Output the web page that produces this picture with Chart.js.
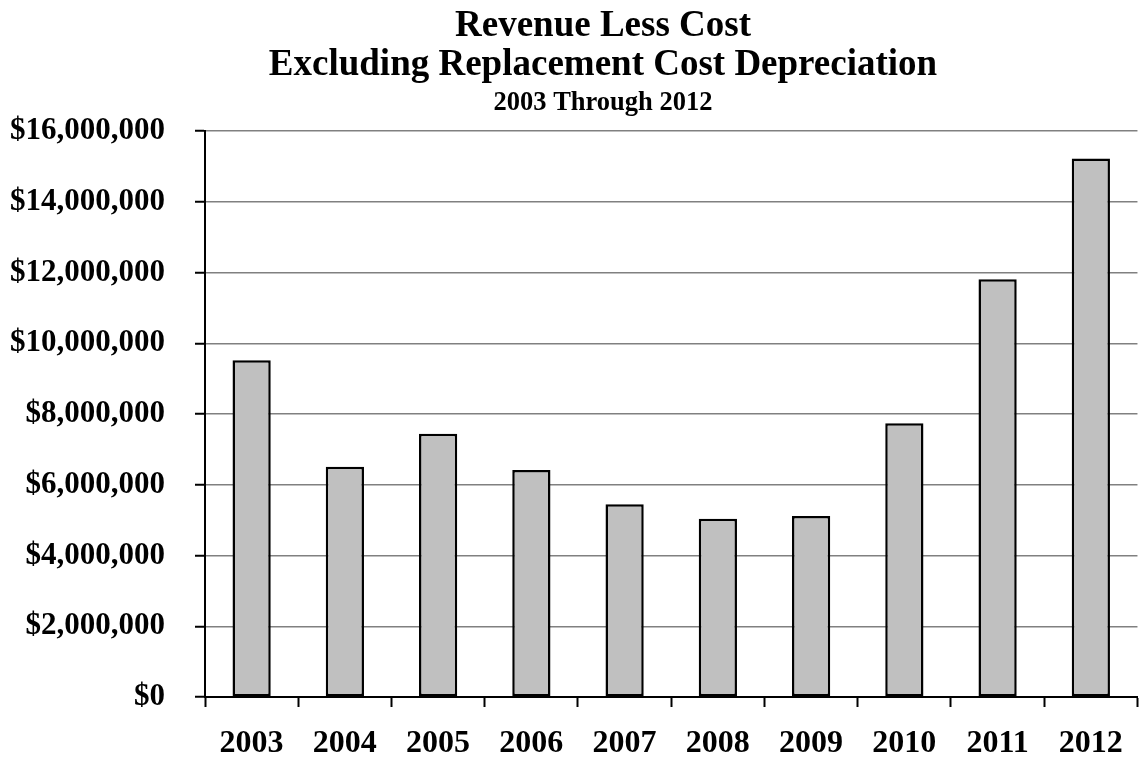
<!DOCTYPE html>
<html>
<head>
<meta charset="utf-8">
<title>Revenue Less Cost</title>
<script src="https://cdn.jsdelivr.net/npm/chart.js@4/dist/chart.umd.min.js"></script>
<style>
  html, body { margin: 0; padding: 0; background: #ffffff; }
  #chart-wrap { width: 1141px; height: 759px; position: relative; }
</style>
</head>
<body>
<div id="chart-wrap"><canvas id="revenue-chart"></canvas></div>
<script>
// ===== DATA =====
const years = ['2003', '2004', '2005', '2006', '2007', '2008', '2009', '2010', '2011', '2012'];
const revenueLessCost = [9520000, 6510000, 7440000, 6420000, 5450000, 5040000, 5120000, 7740000, 11810000, 15220000];
const yTicks = [0, 2000000, 4000000, 6000000, 8000000, 10000000, 12000000, 14000000, 16000000];

const titleLines = ['Revenue Less Cost', 'Excluding Replacement Cost Depreciation'];
const subtitleText = '2003 Through 2012';

const SERIF = "'Liberation Serif', 'Times New Roman', serif";

/**
 * Format a number as whole dollars with thousands separators
 * @param {number} value
 */
function formatDollars(value) {
  return '$' + Math.round(value).toLocaleString('en-US');
}

/**
 * Heading plugin: the title block sits a little right of the canvas
 * centre, so it is drawn here instead of through the title plugin.
 */
const headingPlugin = {
  id: 'heading',
  afterDraw(chart, args, opts) {
    const ctx = chart.ctx;
    ctx.save();
    ctx.fillStyle = '#000000';
    ctx.textAlign = 'center';
    ctx.textBaseline = 'alphabetic';
    ctx.font = `bold 37px ${SERIF}`;
    titleLines.forEach((line, i) => {
      ctx.fillText(line, opts.centerX, opts.titleBaselines[i]);
    });
    ctx.font = `bold 26.5px ${SERIF}`;
    ctx.fillText(subtitleText, opts.centerX, opts.subtitleBaseline);
    ctx.restore();
  }
};

class RevenueChart {
  constructor(canvasId) {
    this.ctx = document.getElementById(canvasId);
    this.chart = null;
    this.init();
  }

  init() {
    Chart.defaults.font.family = SERIF;
    Chart.defaults.color = '#000000';

    this.chart = new Chart(this.ctx, {
      type: 'bar',
      data: {
        labels: years,
        datasets: [{
          label: 'Revenue Less Cost',
          data: revenueLessCost,
          backgroundColor: '#c0c0c0',
          borderColor: '#000000',
          borderWidth: 2.5,
          borderSkipped: false,
          categoryPercentage: 1,
          barPercentage: 0.41
        }]
      },
      plugins: [headingPlugin],
      options: {
        responsive: true,
        maintainAspectRatio: false,
        animation: false,
        layout: {
          padding: { left: 10, right: 3, top: 131, bottom: 0 }
        },
        plugins: {
          legend: { display: false },
          tooltip: { enabled: false },
          title: { display: false },
          heading: {
            centerX: 603,
            titleBaselines: [35.5, 75],
            subtitleBaseline: 110
          }
        },
        scales: {
          x: {
            offset: true,
            // fixed axis band height below the plot
            afterFit: (scale) => { scale.height = 62; },
            grid: {
              offset: true,
              drawOnChartArea: false,
              drawTicks: true,
              tickLength: 10,
              tickWidth: 2,
              tickColor: '#000000'
            },
            border: { color: '#000000', width: 2 },
            ticks: {
              color: '#000000',
              padding: 18,
              font: { family: SERIF, size: 32, weight: 'bold' }
            }
          },
          y: {
            min: 0,
            max: 16000000,
            // fixed axis band width left of the plot
            afterFit: (scale) => { scale.width = 195; },
            afterBuildTicks: (scale) => {
              scale.ticks = yTicks.map(v => ({ value: v }));
            },
            grid: {
              color: '#808080',
              lineWidth: 1.5,
              tickLength: 10,
              tickWidth: 2,
              tickColor: '#000000'
            },
            border: { color: '#000000', width: 2 },
            ticks: {
              color: '#000000',
              padding: 30,
              font: { family: SERIF, size: 31, weight: 'bold' },
              callback: (value) => formatDollars(value)
            }
          }
        }
      }
    });
  }
}

new RevenueChart('revenue-chart');
</script>
</body>
</html>
